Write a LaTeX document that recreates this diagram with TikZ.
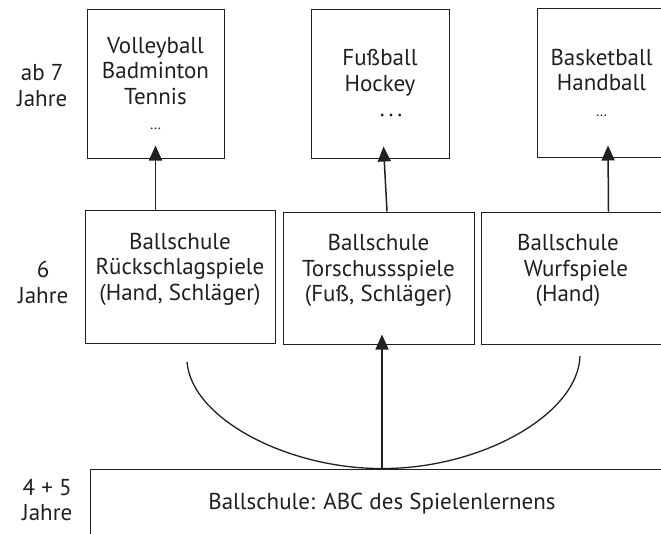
\documentclass[tikz,border=0pt]{standalone}
\usepackage{fontspec}
\setmainfont{PT Sans}
\usetikzlibrary{positioning,arrows.meta}
\definecolor{ink}{HTML}{231F20}

\tikzset{
  box/.style={draw=ink, line width=1pt, inner sep=0pt, align=center, text=ink},
  age/.style={align=center, inner sep=0pt, text=ink},
  uparrow/.style={draw=ink, line width=1.5pt, -{Triangle[length=15pt,width=13pt]}},
  bow/.style={draw=ink, line width=1.3pt},
}
\newcommand\fewdots{{\fontsize{15}{25}\selectfont\dots}}

\begin{document}
\begin{tikzpicture}[x=1pt, y=-1pt, font=\fontsize{23}{25.5}\selectfont]
        \useasboundingbox (0,0) rectangle (661,533);
        \clip (0,0) rectangle (661,533);

        % ab 7 Jahre
        \node(1)[box, minimum width=137pt, minimum height=149pt] at (155.5,83.5) {Volleyball\\Badminton\\Tennis\\\fewdots};
        \node(2)[box, minimum width=138pt, minimum height=149pt] at (380,83.5) {Fußball\\Hockey\\\hspace*{22pt}.\,.\,.};
        \node(3)[box, minimum width=129pt, minimum height=149pt] at (601.5,82.5) {Basketball\\Handball\\\fewdots};
        % 6 Jahre
        \node(4)[box, minimum width=190pt, minimum height=133pt, text depth=20pt] at (180,276.5) {Ballschule\\Rückschlagspiele\\(Hand, Schläger)};
        \node(5)[box, minimum width=191pt, minimum height=132pt, text depth=20pt] at (378.5,278) {Ballschule\\Torschussspiele\\(Fuß, Schläger)};
        \node(6)[box, minimum width=190pt, minimum height=132pt, text depth=20pt] at (576,278) {Ballschule\hspace*{16pt}\\Wurfspiele\hspace*{16pt}\\(Hand)\hspace*{16pt}};
        % 4 + 5 Jahre
        \node(7)[box, minimum width=584pt, minimum height=70pt] at (382,504) {Ballschule: ABC des Spielenlernens};

        \node(8)[age, left=19pt of 1, yshift=-2pt] {ab 7\\Jahre};
        \node(9)[age, left=16pt of 4, yshift=-6pt] {6\\Jahre};
        \node(10)[age, left=17pt of 7, yshift=4pt] {4 + 5\\Jahre};

        \coordinate(l) at (187,362);
        \coordinate(r) at (580,356);

        \draw[uparrow] (4.north -| 1.south) -- ([yshift=13pt]1.south);
        \draw[uparrow] ([xshift=7pt]2.south |- 5.north) -- ([xshift=3.5pt,yshift=12pt]2.south);
        \draw[uparrow] ([xshift=7pt]3.south |- 6.north) -- ([xshift=6.5pt,yshift=12pt]3.south);
        \draw[uparrow] (7.north) -- ([yshift=10pt]7.north |- 5.south);
        \draw[bow] (l) .. controls (192,420) and (290,469) .. (7.north) .. controls (480,469) and (578,415) .. (r);
    \end{tikzpicture}
\end{document}
